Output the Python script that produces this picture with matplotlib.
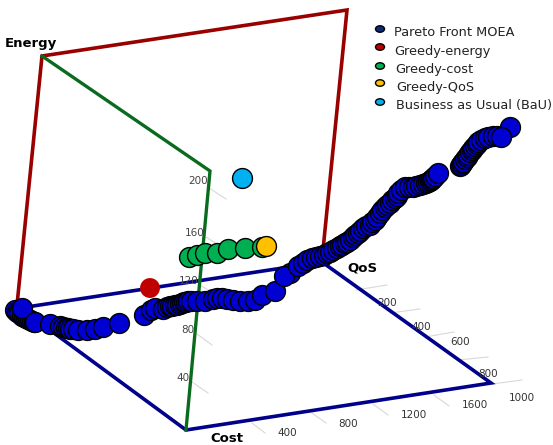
import matplotlib
matplotlib.use("Agg")
import matplotlib.pyplot as plt
from matplotlib.patches import Ellipse

# everything, in picture pixels (the chart is a flat 3d projection)
pareto_x = [510, 15, 17, 19, 22, 24, 26, 28, 30, 32, 34, 22, 35, 50, 60, 63, 66, 68, 70, 73, 78, 87, 95, 103, 119,
            144, 151, 155, 163, 167, 170, 172, 175, 177, 180, 182, 184, 186, 188, 191, 197, 205, 213, 217, 222, 227, 233, 240, 248, 255, 262, 275,
            290, 284, 298, 303, 307, 312, 316, 320, 324, 327, 330, 333, 337, 340, 342, 345, 347, 350, 353, 355, 358, 360, 363, 366, 370, 372, 375, 377, 380, 382, 385,
            387, 390, 392, 395, 397, 398, 401, 405, 409, 413, 416, 420, 423, 426, 428, 430, 431, 432, 433, 435, 438,
            460, 461, 462, 463, 465, 467, 468, 470, 472, 473, 475, 477, 478, 481, 485, 488, 493, 497, 501]
pareto_y = [127, 310, 312, 313, 316, 317, 318, 319, 320, 321, 322, 308, 322, 324, 326, 327, 328, 328, 329, 329, 330, 330, 329, 327, 323,
            315, 310, 308, 309, 307, 306, 306, 305, 305, 304, 303, 302, 302, 301, 301, 301, 301, 299, 298, 298, 299, 300, 301, 301, 300, 295, 291,
            273, 276, 266, 263, 260, 258, 257, 256, 255, 253, 252, 250, 248, 246, 245, 243, 242, 240, 237, 235, 233, 231, 228, 226, 225, 222, 220, 217, 213, 210, 207,
            205, 203, 200, 198, 196, 193, 190, 187, 187, 187, 186, 185, 184, 183, 182, 181, 180, 179, 178, 176, 173,
            166, 165, 163, 162, 159, 157, 155, 152, 150, 148, 146, 144, 142, 140, 138, 137, 136, 136, 137]
green_x = [189, 197, 205, 217, 228, 245, 262]
green_y = [257, 255, 253, 253, 249, 248, 247]
red_xy = (150, 288)
yellow_xy = (266, 246)
bau_xy = (242, 178)

legend_labels = ["Pareto Front MOEA", "Greedy-energy", "Greedy-cost", "Greedy-QoS", "Business as Usual (BaU)"]
legend_colors = ["#0b2a78", "#c00000", "#00b050", "#ffc000", "#00b0f0"]
legend_marker_y = [29, 47, 66, 83, 102]
legend_text_x = [394, 394, 395, 396, 396]
legend_text_y = [32, 51, 69, 87, 105]

energy_labels = ["200", "160", "120", "80", "40"]
energy_lab_x = [198, 195, 189, 188, 183]
energy_lab_y = [181, 233, 281, 330, 378]
cost_labels = ["400", "800", "1200", "1600"]
cost_lab_x = [287, 348, 414, 475]
cost_lab_y = [433, 424, 415, 405]
qos_labels = ["200", "400", "600", "800", "1000"]
qos_lab_x = [387, 421, 460, 488, 522]
qos_lab_y = [303, 327, 342, 374, 398]

# tick segments x0, y0, x1, y1
ticks = [(209, 188, 226, 199), (206, 237, 223, 248), (200, 285, 208, 290), (197, 334, 212, 345),
         (192, 382, 208, 393), (252, 423, 265, 433), (312, 413, 326, 423), (373, 404, 388, 415),
         (434, 395, 449, 406), (356, 290, 387, 285), (390, 313, 420, 309), (425, 337, 454, 332),
         (458, 360, 488, 357), (492, 384, 522, 380)]

red_line = [(17, 305), (42, 56), (347, 10), (323, 250)]
green_line = [(42, 56), (210, 171), (186, 430)]
blue_line = [(322, 262), (20, 308), (186, 430), (491, 383), (322, 262)]

fig = plt.figure(figsize=(5.53, 4.45), dpi=100)
ax = fig.add_axes([0, 0, 1, 1])
ax.set_xlim(0, 553)
ax.set_ylim(445, 0)
ax.axis("off")

for t in ticks:
    ax.plot([t[0], t[2]], [t[1], t[3]], color="#d8d8d8", lw=0.8, zorder=1)

ax.plot(*zip(*blue_line), color="#00008b", lw=2.6, zorder=2, solid_joinstyle="miter")
ax.plot(*zip(*red_line), color="#990000", lw=2.6, zorder=2, solid_joinstyle="miter")
ax.plot(*zip(*green_line), color="#0a6b1e", lw=2.4, zorder=2, solid_joinstyle="miter")

for lab, x, y in zip(energy_labels, energy_lab_x, energy_lab_y):
    ax.text(x, y, lab, fontsize=7.5, color="#444444", ha="center", va="center", zorder=3)
for lab, x, y in zip(cost_labels, cost_lab_x, cost_lab_y):
    ax.text(x, y, lab, fontsize=7.5, color="#333333", ha="center", va="center", zorder=3)
for lab, x, y in zip(qos_labels, qos_lab_x, qos_lab_y):
    ax.text(x, y, lab, fontsize=7.5, color="#333333", ha="center", va="center", zorder=3)

ax.text(31, 44, "Energy", fontsize=9.5, fontweight="bold", ha="center", va="center")
ax.text(227, 439, "Cost", fontsize=9.5, fontweight="bold", ha="center", va="center")
ax.text(362, 268, "QoS", fontsize=9.5, fontweight="bold", ha="center", va="center")

size = 205
ax.scatter(pareto_x, pareto_y, s=size, c="#0000d2", edgecolors="black", linewidths=1.0, zorder=6)
ax.scatter(green_x, green_y, s=size, c="#00b050", edgecolors="black", linewidths=1.0, zorder=4)
ax.scatter(*yellow_xy, s=size, c="#ffc000", edgecolors="black", linewidths=1.0, zorder=5)
ax.scatter(*bau_xy, s=size, c="#00b0f0", edgecolors="black", linewidths=1.0, zorder=5)
ax.scatter(*red_xy, s=size, c="#c00000", edgecolors="none", zorder=5)

for lab, col, my, tx, ty in zip(legend_labels, legend_colors, legend_marker_y, legend_text_x, legend_text_y):
    ax.add_patch(Ellipse((380, my), 9, 6.5, facecolor=col, edgecolor="black", lw=1.0))
    ax.text(tx, ty, lab, fontsize=9.3, color="#222222", ha="left", va="center")

fig.savefig("out.png", dpi=100)
